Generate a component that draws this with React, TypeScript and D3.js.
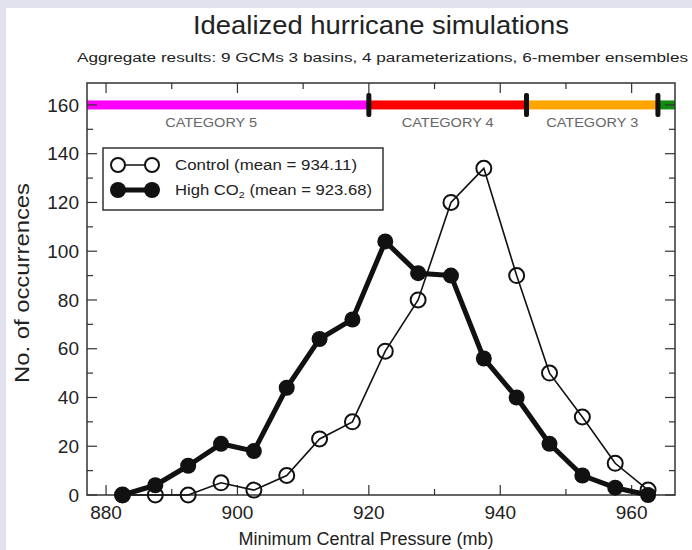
import React, { useRef, useEffect } from "react";
import * as d3 from "d3";

// bin centres (mb) and counts
const pressureBins = [
  882.5, 887.5, 892.5, 897.5, 902.5, 907.5, 912.5, 917.5, 922.5, 927.5,
  932.5, 937.5, 942.5, 947.5, 952.5, 957.5, 962.5,
];
const controlCounts = [0, 0, 0, 5, 2, 8, 23, 30, 59, 80, 120, 134, 90, 50, 32, 13, 2];
const highCo2Counts = [0, 4, 12, 21, 18, 44, 64, 72, 104, 91, 90, 56, 40, 21, 8, 3, 0];

const xTickValues = [880, 900, 920, 940, 960];
const xMinorValues = [890, 910, 930, 950];
const yTickValues = [0, 20, 40, 60, 80, 100, 120, 140, 160];
const yMinorValues = [10, 30, 50, 70, 90, 110, 130, 150];

// Saffir-Simpson limits shown in the strip at the top
const categoryNames = ["CATEGORY 5", "CATEGORY 4", "CATEGORY 3", "CATEGORY 2"];
const categoryColors = ["#ff00ff", "#ff0000", "#ffa500", "#118c11"];
const categoryLimits = [920, 944, 964];
const categoryLabelAt = [896, 932, 954];

const seriesNames = ["Control (mean = 934.11)", "High CO"];

const FONT = "'Liberation Sans', Arial, Helvetica, sans-serif";

const App = () => {
  const ref = useRef<SVGSVGElement | null>(null);

  useEffect(() => {
    const width = 692;
    const height = 550;
    const left = 87;
    const right = 675;
    const top = 83;
    const bottom = 495;

    const svg = d3.select(ref.current);
    svg.selectAll("*").remove();

    svg.append("rect").attr("width", width).attr("height", height).attr("fill", "#e2e2ee");
    svg.append("rect").attr("x", 6).attr("y", 8).attr("width", width - 6).attr("height", height - 8).attr("fill", "#ffffff");

    const x = d3.scaleLinear().domain([877.1, 966.6]).range([left, right]);
    const y = d3.scaleLinear().domain([0, 169]).range([bottom, top]);

    // title
    svg.append("text")
      .attr("x", 381).attr("y", 34)
      .attr("text-anchor", "middle")
      .attr("font-family", FONT).attr("font-size", 25)
      .attr("textLength", 376).attr("lengthAdjust", "spacingAndGlyphs")
      .attr("fill", "#222")
      .text("Idealized hurricane simulations");

    svg.append("text")
      .attr("x", 77).attr("y", 62)
      .attr("font-family", FONT).attr("font-size", 12)
      .attr("textLength", 611).attr("lengthAdjust", "spacingAndGlyphs")
      .attr("fill", "#222")
      .text("Aggregate results:  9 GCMs  3 basins, 4 parameterizations, 6-member ensembles");

    // category strip
    const edges = [x.domain()[0], ...categoryLimits, x.domain()[1]];
    const yc = y(160);
    svg.append("g").selectAll("rect")
      .data(categoryColors)
      .join("rect")
      .attr("x", (d, i) => x(edges[i]))
      .attr("y", yc - 4.5)
      .attr("width", (d, i) => x(edges[i + 1]) - x(edges[i]))
      .attr("height", 9)
      .attr("fill", (d) => d);

    svg.append("g").selectAll("rect")
      .data(categoryLimits)
      .join("rect")
      .attr("x", (d) => x(d) - 2.5)
      .attr("y", yc - 12)
      .attr("width", 5)
      .attr("height", 24)
      .attr("rx", 2)
      .attr("fill", "#111");

    svg.append("g").selectAll("text")
      .data(categoryLabelAt)
      .join("text")
      .attr("x", (d) => x(d))
      .attr("y", yc + 22)
      .attr("text-anchor", "middle")
      .attr("font-family", FONT).attr("font-size", 12)
      .attr("textLength", 92).attr("lengthAdjust", "spacingAndGlyphs")
      .attr("fill", "#666")
      .text((d, i) => categoryNames[i]);

    // frame with inward ticks on all four sides
    svg.append("rect")
      .attr("x", left).attr("y", top)
      .attr("width", right - left).attr("height", bottom - top)
      .attr("fill", "none").attr("stroke", "#333").attr("stroke-width", 1.5);

    const ticks = svg.append("g").attr("stroke", "#333").attr("stroke-width", 1.2);
    const xt = [...xTickValues.map((v) => [v, 10]), ...xMinorValues.map((v) => [v, 6])];
    xt.forEach(([v, len]) => {
      ticks.append("line").attr("x1", x(v)).attr("x2", x(v)).attr("y1", bottom).attr("y2", bottom - len);
      ticks.append("line").attr("x1", x(v)).attr("x2", x(v)).attr("y1", top).attr("y2", top + len);
    });
    const yt = [...yTickValues.map((v) => [v, 10]), ...yMinorValues.map((v) => [v, 6])];
    yt.forEach(([v, len]) => {
      ticks.append("line").attr("x1", left).attr("x2", left + len).attr("y1", y(v)).attr("y2", y(v));
      ticks.append("line").attr("x1", right).attr("x2", right - len).attr("y1", y(v)).attr("y2", y(v));
    });

    svg.append("g").selectAll("text")
      .data(xTickValues)
      .join("text")
      .attr("x", (d) => x(d))
      .attr("y", 519)
      .attr("text-anchor", "middle")
      .attr("font-family", FONT).attr("font-size", 19)
      .attr("fill", "#222")
      .text((d) => d);

    svg.append("g").selectAll("text")
      .data(yTickValues)
      .join("text")
      .attr("x", 79)
      .attr("y", (d) => y(d))
      .attr("dy", "0.35em")
      .attr("text-anchor", "end")
      .attr("font-family", FONT).attr("font-size", 19)
      .attr("fill", "#222")
      .text((d) => d);

    svg.append("text")
      .attr("x", 366).attr("y", 545)
      .attr("text-anchor", "middle")
      .attr("font-family", FONT).attr("font-size", 18)
      .attr("fill", "#222")
      .text("Minimum Central Pressure (mb)");

    svg.append("text")
      .attr("transform", "translate(29,283) rotate(-90)")
      .attr("text-anchor", "middle")
      .attr("font-family", FONT).attr("font-size", 20)
      .attr("textLength", 200).attr("lengthAdjust", "spacingAndGlyphs")
      .attr("fill", "#222")
      .text("No. of occurrences");

    // series
    const line = d3.line<number>()
      .x((d, i) => x(pressureBins[i]))
      .y((d) => y(d));

    svg.append("path")
      .datum(controlCounts)
      .attr("d", line)
      .attr("fill", "none").attr("stroke", "#111").attr("stroke-width", 1.6);

    svg.append("path")
      .datum(highCo2Counts)
      .attr("d", line)
      .attr("fill", "none").attr("stroke", "#111").attr("stroke-width", 5)
      .attr("stroke-linejoin", "round");

    svg.append("g").selectAll("circle")
      .data(highCo2Counts)
      .join("circle")
      .attr("cx", (d, i) => x(pressureBins[i]))
      .attr("cy", (d) => y(d))
      .attr("r", 8)
      .attr("fill", "#111");

    svg.append("g").selectAll("circle")
      .data(controlCounts)
      .join("circle")
      .attr("cx", (d, i) => x(pressureBins[i]))
      .attr("cy", (d) => y(d))
      .attr("r", 7.5)
      .attr("fill", "none")
      .attr("stroke", "#111").attr("stroke-width", 2);

    // legend
    const lg = svg.append("g");
    lg.append("rect")
      .attr("x", 103).attr("y", 148).attr("width", 280).attr("height", 62)
      .attr("fill", "#fff").attr("stroke", "#333").attr("stroke-width", 1.5);

    lg.append("line").attr("x1", 118).attr("x2", 152).attr("y1", 165).attr("y2", 165)
      .attr("stroke", "#111").attr("stroke-width", 1.6);
    [118, 152].forEach((cx) =>
      lg.append("circle").attr("cx", cx).attr("cy", 165).attr("r", 7)
        .attr("fill", "#fff").attr("stroke", "#111").attr("stroke-width", 2)
    );
    lg.append("line").attr("x1", 118).attr("x2", 152).attr("y1", 190).attr("y2", 190)
      .attr("stroke", "#111").attr("stroke-width", 5);
    [118, 152].forEach((cx) =>
      lg.append("circle").attr("cx", cx).attr("cy", 190).attr("r", 8).attr("fill", "#111")
    );

    lg.append("text")
      .attr("x", 175).attr("y", 170)
      .attr("font-family", FONT).attr("font-size", 14)
      .attr("textLength", 182).attr("lengthAdjust", "spacingAndGlyphs")
      .attr("fill", "#222")
      .text(seriesNames[0]);

    const t2 = lg.append("text")
      .attr("x", 175).attr("y", 195)
      .attr("font-family", FONT).attr("font-size", 14)
      .attr("textLength", 197).attr("lengthAdjust", "spacingAndGlyphs")
      .attr("fill", "#222");
    t2.append("tspan").text(seriesNames[1]);
    t2.append("tspan").attr("font-size", 9).attr("dy", 3).text("2");
    t2.append("tspan").attr("dy", -3).text(" (mean = 923.68)");
  }, []);

  return (
    <svg
      ref={ref}
      width={692}
      height={550}
      style={{ position: "absolute", left: 0, top: 0 }}
    />
  );
};

export default App;
